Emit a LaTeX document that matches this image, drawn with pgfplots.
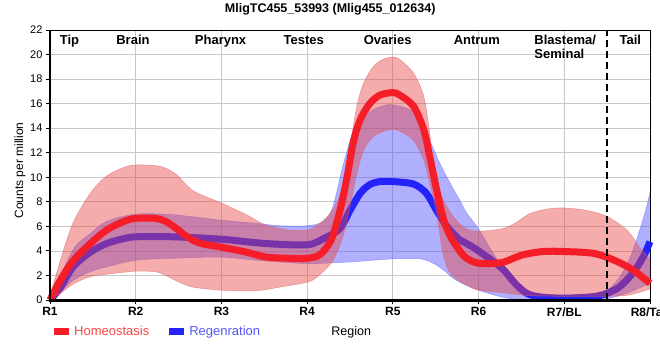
\documentclass[border=0pt]{standalone}
\usepackage{pgfplots}
\pgfplotsset{compat=1.18}
\usepackage{fontspec}
\setmainfont{Liberation Sans}
\definecolor{redline}{RGB}{245,30,40}
\definecolor{blueline}{RGB}{35,35,250}
\definecolor{redfill}{RGB}{230,70,70}
\definecolor{bluefill}{RGB}{80,80,255}
\definecolor{redborder}{RGB}{225,100,100}
\definecolor{blueborder}{RGB}{110,110,255}
\definecolor{legred}{RGB}{250,70,70}
\definecolor{legblue}{RGB}{85,85,250}
\definecolor{gridgray}{RGB}{200,200,200}
\begin{document}
\begin{tikzpicture}
\useasboundingbox (0,0) rectangle (660pt,360pt);
\begin{axis}[
  at={(50pt,60pt)}, anchor=south west,
  width=600pt, height=270pt, scale only axis,
  xmin=0, xmax=7, ymin=0, ymax=22,
  xtick={0,1,2,3,4,5,6,7},
  xticklabels={R1,R2,R3,R4,R5,R6,R7/BL,R8/Tail},
  ytick={0,2,4,6,8,10,12,14,16,18,20,22},
  grid=major, major grid style={color=gridgray, line width=0.8pt},
  tick align=outside, major tick length=4pt, tick style={black, line width=1pt},
  xtick pos=bottom, ytick pos=left,
  axis line style={black, line width=0.8pt},
  clip=false,
  /pgf/number format/assume math mode=true,
  yticklabel style={font=\fontsize{11}{13}\selectfont},
  xticklabel style={font=\fontsize{12}{14}\selectfont\bfseries},
  ylabel={Counts per million},
  ylabel style={font=\fontsize{12}{14}\selectfont, at={(axis description cs:-0.05,0.48)}, anchor=center},
  xlabel={Region},
  xlabel style={font=\fontsize{12.5}{14}\selectfont, at={(axis description cs:0.502,0)}, anchor=base, yshift=-35pt},
  title={MligTC455\_53993 (Mlig455\_012634)},
  title style={font=\fontsize{12.5}{14}\selectfont\bfseries, at={(axis description cs:0.467,1)}, anchor=base, yshift=11.3pt},
  legend image code/.code={\draw[line width=7pt] (0pt,0pt) -- (15pt,0pt);},
  legend style={draw=none, fill=none, legend columns=2,
    at={(axis description cs:0,0)}, anchor=north west, yshift=-22pt, xshift=-3pt,
    font=\fontsize{13}{15}\selectfont,
    /tikz/every even column/.append style={column sep=14pt}},
]
\addlegendimage{redline}
\addlegendimage{blueline}
% ---- Regeneration band (upper edge from R8 back to R1, then lower edge R1 to R8)
\addplot[smooth, fill=bluefill, fill opacity=0.45, draw=none, forget plot] coordinates {
(7.0,8.8) (6.96,7.6) (6.88,5.7) (6.77,3.5) (6.65,1.9) (6.5,0.8) (6.3,0.5) (6.0,0.4) (5.6,0.45) (5.48,0.8)
(5.33,2.2) (5.17,3.8) (5.0,5.8) (4.86,7.1) (4.78,8.15) (4.67,9.5) (4.55,11.1) (4.43,13.0) (4.28,15.2)
(4.0,15.9) (3.88,15.8) (3.77,15.5) (3.66,14.8) (3.54,13.8) (3.42,11.0) (3.3,7.6) (3.19,6.4) (3.0,6.05)
(2.68,6.05) (2.4,6.25) (2.0,6.5) (1.43,6.95) (1.0,7.0) (0.66,6.4) (0.47,5.4) (0.27,4.1) (0,0)
(0.27,1.6) (0.47,2.3) (0.66,2.7) (1.0,3.25) (1.43,3.4) (2.0,3.5) (2.4,3.25) (3.0,2.95) (3.19,3.0)
(3.5,3.1) (3.7,3.2) (4.0,3.35) (4.32,3.35) (4.47,3.0) (4.59,2.45) (4.74,1.6) (5.0,0.8) (5.27,0.25)
(5.5,0.02) (6.0,0.0) (6.34,0.02) (6.5,0.1) (6.73,0.55) (6.88,1.0) (7.0,1.4)} -- cycle;
\addplot[smooth, blueborder, opacity=0.6, line width=0.5pt, forget plot] coordinates {
(0,0) (0.27,4.1) (0.47,5.4) (0.66,6.4) (1.0,7.0) (1.43,6.95) (2.0,6.5) (2.4,6.25) (2.68,6.05) (3.0,6.05)
(3.19,6.4) (3.3,7.6) (3.42,11.0) (3.54,13.8) (3.66,14.8) (3.77,15.5) (3.88,15.8) (4.0,15.9) (4.28,15.2)
(4.43,13.0) (4.55,11.1) (4.67,9.5) (4.78,8.15) (4.86,7.1) (5.0,5.8) (5.17,3.8) (5.33,2.2) (5.48,0.8)
(5.6,0.45) (6.0,0.4) (6.3,0.5) (6.5,0.8) (6.65,1.9) (6.77,3.5) (6.88,5.7) (6.96,7.6) (7.0,8.8)};
\addplot[smooth, blueborder, opacity=0.6, line width=0.5pt, forget plot] coordinates {
(0,0) (0.27,1.6) (0.47,2.3) (0.66,2.7) (1.0,3.25) (1.43,3.4) (2.0,3.5) (2.4,3.25) (3.0,2.95) (3.19,3.0)
(3.5,3.1) (3.7,3.2) (4.0,3.35) (4.32,3.35) (4.47,3.0) (4.59,2.45) (4.74,1.6) (5.0,0.8) (5.27,0.25)
(5.5,0.02) (6.0,0.0) (6.34,0.02) (6.5,0.1) (6.73,0.55) (6.88,1.0) (7.0,1.4)};
\addplot[smooth, blueline, line width=7pt, forget plot] coordinates {
(0,0) (0.12,1.0) (0.27,2.7) (0.47,3.9) (0.66,4.6) (0.86,5.0) (1.0,5.15) (1.43,5.15) (2.0,4.95) (2.52,4.6)
(3.0,4.5) (3.19,5.0) (3.38,5.8) (3.5,7.3) (3.62,8.7) (3.73,9.4) (3.85,9.65) (4.0,9.65) (4.24,9.45)
(4.39,8.7) (4.51,7.3) (4.63,6.0) (4.78,4.9) (4.86,4.6) (5.0,4.0) (5.27,2.6) (5.42,1.4) (5.56,0.55)
(5.72,0.25) (6.0,0.15) (6.34,0.27) (6.5,0.55) (6.65,1.1) (6.8,2.2) (6.92,3.5) (7.0,4.75)};
% ---- Homeostasis band
\addplot[smooth, fill=redfill, fill opacity=0.45, draw=none, forget plot] coordinates {
(7.0,3.3) (6.88,4.3) (6.73,5.7) (6.5,6.8) (6.26,7.3) (6.0,7.5) (5.79,7.4) (5.6,7.05) (5.5,6.6) (5.41,6.2)
(5.27,5.8) (5.0,5.6) (4.86,5.8) (4.74,6.5) (4.63,7.6) (4.55,8.8) (4.47,10.8) (4.43,13.6) (4.36,16.6)
(4.24,18.5) (4.08,19.6) (4.0,19.8) (3.88,19.6) (3.77,19.0) (3.66,17.7) (3.58,15.8) (3.5,12.5) (3.42,9.5)
(3.35,8.0) (3.25,6.9) (3.12,6.1) (3.0,5.7) (2.79,5.7) (2.52,6.1) (2.29,6.95) (2.0,7.9) (1.67,8.9)
(1.47,10.25) (1.28,10.9) (1.0,11.0) (0.86,10.8) (0.66,10.1) (0.47,8.7) (0.27,6.3) (0.12,3.2) (0,0)
(0.27,1.3) (0.47,1.9) (0.66,2.1) (1.0,2.35) (1.23,2.3) (1.35,2.0) (1.51,1.45) (1.67,1.05) (2.0,0.8)
(2.4,0.75) (2.68,1.05) (3.0,1.45) (3.12,1.9) (3.3,3.2) (3.42,5.2) (3.5,7.6) (3.58,10.3) (3.66,12.2)
(3.77,13.3) (3.88,13.7) (4.0,13.9) (4.1,13.7) (4.24,13.0) (4.36,11.4) (4.43,9.5) (4.51,7.1) (4.57,4.3)
(4.63,2.7) (4.71,1.9) (4.86,1.2) (5.0,0.8) (5.27,0.6) (5.6,0.35) (6.0,0.3) (6.5,0.3) (6.75,0.4) (7.0,0.9)} -- cycle;
\addplot[smooth, redborder, opacity=0.6, line width=0.5pt, forget plot] coordinates {
(0,0) (0.12,3.2) (0.27,6.3) (0.47,8.7) (0.66,10.1) (0.86,10.8) (1.0,11.0) (1.28,10.9) (1.47,10.25)
(1.67,8.9) (2.0,7.9) (2.29,6.95) (2.52,6.1) (2.79,5.7) (3.0,5.7) (3.12,6.1) (3.25,6.9) (3.35,8.0)
(3.42,9.5) (3.5,12.5) (3.58,15.8) (3.66,17.7) (3.77,19.0) (3.88,19.6) (4.0,19.8) (4.08,19.6) (4.24,18.5)
(4.36,16.6) (4.43,13.6) (4.47,10.8) (4.55,8.8) (4.63,7.6) (4.74,6.5) (4.86,5.8) (5.0,5.6) (5.27,5.8)
(5.41,6.2) (5.5,6.6) (5.6,7.05) (5.79,7.4) (6.0,7.5) (6.26,7.3) (6.5,6.8) (6.73,5.7) (6.88,4.3) (7.0,3.3)};
\addplot[smooth, redborder, opacity=0.6, line width=0.5pt, forget plot] coordinates {
(0,0) (0.27,1.3) (0.47,1.9) (0.66,2.1) (1.0,2.35) (1.23,2.3) (1.35,2.0) (1.51,1.45) (1.67,1.05) (2.0,0.8)
(2.4,0.75) (2.68,1.05) (3.0,1.45) (3.12,1.9) (3.3,3.2) (3.42,5.2) (3.5,7.6) (3.58,10.3) (3.66,12.2)
(3.77,13.3) (3.88,13.7) (4.0,13.9) (4.1,13.7) (4.24,13.0) (4.36,11.4) (4.43,9.5) (4.51,7.1) (4.57,4.3)
(4.63,2.7) (4.71,1.9) (4.86,1.2) (5.0,0.8) (5.27,0.6) (5.6,0.35) (6.0,0.3) (6.5,0.3) (6.75,0.4) (7.0,0.9)};
\addplot[smooth, redline, line width=7pt, forget plot] coordinates {
(0,0) (0.12,1.6) (0.27,3.2) (0.47,4.6) (0.66,5.7) (0.86,6.4) (1.0,6.65) (1.23,6.65) (1.35,6.4) (1.47,5.85)
(1.59,5.2) (1.74,4.65) (2.0,4.3) (2.29,3.9) (2.52,3.5) (2.79,3.4) (3.0,3.4) (3.15,3.7) (3.28,4.9)
(3.38,7.2) (3.46,9.8) (3.54,12.9) (3.62,14.7) (3.73,16.0) (3.85,16.7) (4.0,16.9) (4.08,16.7) (4.24,15.8)
(4.36,13.9) (4.43,11.7) (4.51,9.0) (4.59,6.6) (4.67,5.2) (4.78,4.0) (4.86,3.4) (5.0,3.0) (5.27,3.05)
(5.5,3.65) (5.75,3.95) (6.0,3.95) (6.34,3.8) (6.58,3.25) (6.8,2.45) (7.0,1.35)};
\legend{\textcolor{legred}{Homeostasis}, \textcolor{legblue}{Regenration}}
% ---- decorations
\draw[black, line width=2pt, dash pattern=on 7pt off 4pt] (axis cs:6.5,0) -- (axis cs:6.5,22);
\draw[black, line width=2.5pt] (rel axis cs:0,0) -- (rel axis cs:0,1);
\draw[black, line width=3pt] (rel axis cs:-0.002,0) -- (rel axis cs:1,0);
\begin{scope}[every node/.style={font=\fontsize{13}{15}\selectfont\bfseries}]
\node[anchor=base] at (axis cs:0.227,20.84) {Tip};
\node[anchor=base] at (axis cs:0.968,20.84) {Brain};
\node[anchor=base] at (axis cs:1.99,20.84) {Pharynx};
\node[anchor=base] at (axis cs:2.96,20.84) {Testes};
\node[anchor=base] at (axis cs:3.94,20.84) {Ovaries};
\node[anchor=base] at (axis cs:4.98,20.84) {Antrum};
\node[anchor=base west, inner xsep=0pt] at (axis cs:5.65,20.84) {Blastema/};
\node[anchor=base west, inner xsep=0pt] at (axis cs:5.65,19.64) {Seminal};
\node[anchor=base] at (axis cs:6.77,20.84) {Tail};
\end{scope}
\end{axis}
\end{tikzpicture}
\end{document}
